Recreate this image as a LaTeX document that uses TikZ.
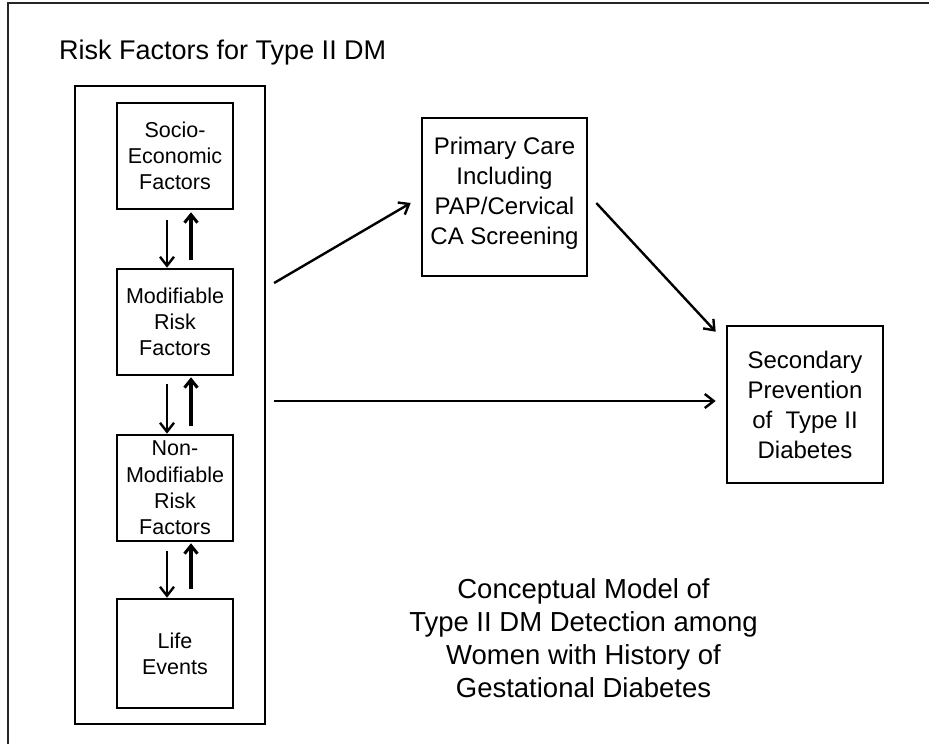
\documentclass[tikz,border=0pt]{standalone}
\usepackage{fontspec}
\setmainfont{Liberation Sans}
\usetikzlibrary{arrows.meta,calc}
\tikzset{
  box/.style={draw=black, line width=2.6pt, align=center, inner sep=0pt},
  lbox/.style={box, minimum width=116pt, minimum height=106pt, font=\fontsize{21.5}{26.3}\selectfont},
  rbox/.style={box, minimum width=162pt, font=\fontsize{24}{30}\selectfont},
  arr/.style={line width=2.4pt, -{Straight Barb[length=9pt,width=14pt,line width=2.4pt]}},
  uparr/.style={line width=3.4pt, -{Straight Barb[length=8pt,width=13pt,line width=3pt]}},
  capt/.style={font=\fontsize{27.5}{33}\selectfont, align=center, inner sep=0pt}
}
\begin{document}
\begin{tikzpicture}[x=1pt,y=-1pt]
\useasboundingbox (0,0) rectangle (929,744);
\fill[white] (0,0) rectangle (929,744);
% outer frame (only top and left edges visible)
\draw[line width=2pt, black!85] (8,744) -- (8,3) -- (929,3);
% title
\node[anchor=base west, inner sep=0pt, font=\fontsize{27}{28}\selectfont] (title) at (59,59) {Risk Factors for Type II DM};
% risk-factor frame
\node[draw=black, line width=2.2pt, minimum width=190pt, minimum height=638pt, inner sep=0pt] (rf) at (170,405) {};
% inner boxes
\node[lbox] (se) at (175,156) {Socio-\\Economic\\Factors};
\node[lbox] (mo) at (175,322) {Modifiable\\Risk\\Factors};
\node[lbox] (nm) at (175,488) {Non-\\Modifiable\\Risk\\Factors};
\node[lbox, minimum height=109pt] (le) at (175,653.5) {Life\\Events};
% arrows between inner boxes
\draw[arr] ($(se.south)+(-8,10)$) -- ($(mo.north)+(-8,0)$);
\draw[uparr] ($(mo.north)+(16,-8)$) -- ($(se.south)+(16,2)$);
\draw[arr] ($(mo.south)+(-8,8)$) -- ($(nm.north)+(-8,0)$);
\draw[uparr] ($(nm.north)+(16,-8)$) -- ($(mo.south)+(16,1)$);
\draw[arr] ($(nm.south)+(-8,9)$) -- ($(le.north)+(-8,0)$);
\draw[uparr] ($(le.north)+(16,-9)$) -- ($(nm.south)+(16,1)$);
% right boxes
\node[rbox, minimum width=165pt, minimum height=158pt] (pc) at (504.5,197) {};
\node[font=\fontsize{24}{30}\selectfont, align=center, inner sep=0pt] (pct) at (504.5,193) {Primary Care\\Including\\PAP/Cervical\\CA Screening};
\node[rbox, minimum width=156pt, minimum height=157pt] (sp) at (805,404.5) {Secondary\\Prevention\\of\ \ Type II\\Diabetes};
% connectors
\coordinate (a1) at ($(rf.east)+(8,-122)$);
\draw[arr] (a1) -- ($(pc.west)+(-10,6)$);
\draw[arr] ($(pc.east)+(8,6)$) -- ($(sp.north west)+(-10,7)$);
\coordinate (h1) at ($(rf.east)+(8,-4)$);
\draw[arr, shorten >=10pt] (h1) -- (h1 -| sp.west);
% caption
\node[capt] (cap) at (583.5,638) {Conceptual Model of\\Type II DM Detection among\\Women with History of\\Gestational Diabetes};
\end{tikzpicture}
\end{document}
